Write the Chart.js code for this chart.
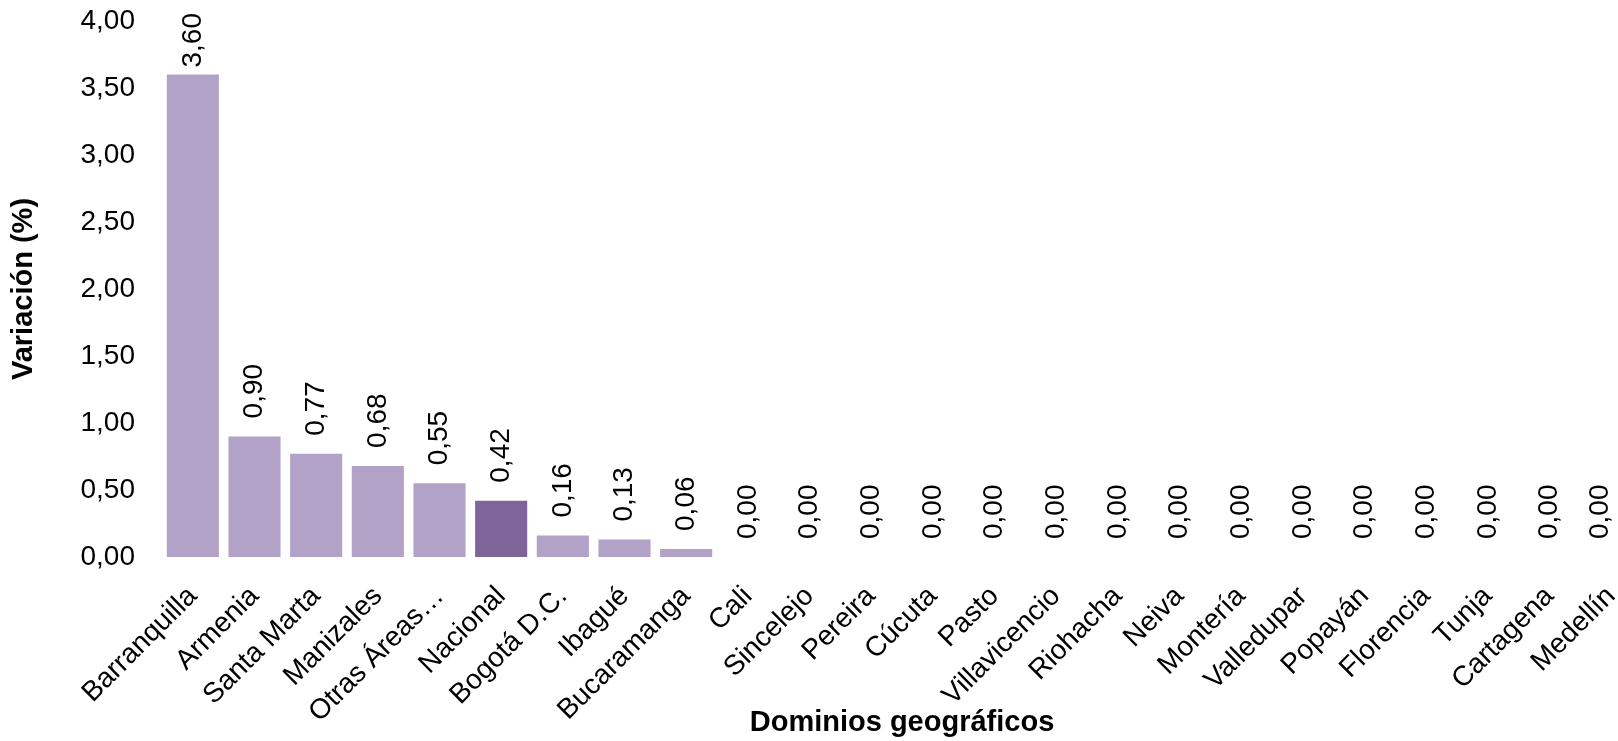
<!DOCTYPE html>
<html>
<head>
<meta charset="utf-8">
<script src="https://cdn.jsdelivr.net/npm/chart.js@4/dist/chart.umd.min.js"></script>
<style>
    html, body { margin: 0; padding: 0; background: #fff; overflow: hidden; }
    #wrap { width: 1618px; height: 741px; }
</style>
</head>
<body>
<div id="wrap"><canvas id="chart"></canvas></div>
<script>
// Datos del gráfico
const categories = ['Barranquilla', 'Armenia', 'Santa Marta', 'Manizales', 'Otras Áreas…', 'Nacional',
    'Bogotá D.C.', 'Ibagué', 'Bucaramanga', 'Cali', 'Sincelejo', 'Pereira', 'Cúcuta', 'Pasto',
    'Villavicencio', 'Riohacha', 'Neiva', 'Montería', 'Valledupar', 'Popayán', 'Florencia', 'Tunja',
    'Cartagena', 'Medellín'];
const values = [3.60, 0.90, 0.77, 0.68, 0.55, 0.42, 0.16, 0.13, 0.06, 0, 0, 0, 0, 0, 0, 0, 0, 0, 0, 0, 0, 0, 0, 0];
const highlight = 'Nacional';

const FONT = 'Liberation Sans, Arial, sans-serif';
const fmt = v => v.toFixed(2).replace('.', ',');

// El área del gráfico original se sale un poco por la derecha (imagen recortada)
const extendRight = {
    id: 'extendRight',
    afterLayout(chart) {
        const x = chart.scales.x;
        x.right = x.left + 1480;
        x.width = 1480;
        chart.chartArea.right = x.right;
        chart.chartArea.width = x.width;
        x.configure();
    }
};

// Etiquetas verticales encima de cada barra
const barLabels = {
    id: 'barLabels',
    afterDatasetsDraw(chart) {
        const ctx = chart.ctx;
        const meta = chart.getDatasetMeta(0);
        ctx.save();
        ctx.font = '28px ' + FONT;
        ctx.fillStyle = '#000';
        ctx.textAlign = 'left';
        ctx.textBaseline = 'middle';
        meta.data.forEach((bar, i) => {
            const txt = fmt(values[i]);
            const w = ctx.measureText(txt).width;
            const y = Math.max(bar.y - 18, 13 + w);      // no salirse por arriba
            const x = Math.min(bar.x, chart.width - 18); // ni por la derecha
            ctx.save();
            ctx.translate(x, y);
            ctx.rotate(-Math.PI / 2);
            ctx.fillText(txt, 0, 0);
            ctx.restore();
        });
        ctx.restore();
    }
};

new Chart(document.getElementById('chart'), {
    type: 'bar',
    data: {
        labels: categories,
        datasets: [{
            data: values,
            backgroundColor: categories.map(c => c === highlight ? '#7f6499' : '#b3a2c7'),
            borderWidth: 0,
            categoryPercentage: 1,
            barPercentage: 0.845
        }]
    },
    options: {
        responsive: true,
        maintainAspectRatio: false,
        animation: false,
        layout: { padding: { top: 21, right: 0, left: 0, bottom: 0 } },
        plugins: {
            legend: { display: false },
            tooltip: { enabled: false }
        },
        scales: {
            x: {
                grid: { display: false, drawTicks: false },
                border: { display: false },
                afterFit: s => { s.height = 184; s.paddingLeft = 0; s.paddingRight = 0; },
                ticks: {
                    color: '#000',
                    font: { family: FONT, size: 28 },
                    minRotation: 45,
                    maxRotation: 45,
                    autoSkip: false,
                    padding: 23
                },
                title: {
                    display: true,
                    text: 'Dominios geográficos',
                    color: '#000',
                    font: { family: FONT, size: 29, weight: 'bold' },
                    padding: { top: 0, bottom: 1 }
                }
            },
            y: {
                min: 0,
                max: 4,
                grid: { display: false, drawTicks: false },
                border: { display: false },
                afterFit: s => { s.width = 162; s.paddingTop = 0; s.paddingBottom = 0; },
                ticks: {
                    stepSize: 0.5,
                    color: '#000',
                    font: { family: FONT, size: 28 },
                    padding: 27,
                    callback: v => fmt(v)
                },
                title: {
                    display: true,
                    text: 'Variación (%)',
                    color: '#000',
                    font: { family: FONT, size: 29, weight: 'bold' },
                    padding: { top: 7, bottom: 0 }
                }
            }
        }
    },
    plugins: [extendRight, barLabels]
});
</script>
</body>
</html>
